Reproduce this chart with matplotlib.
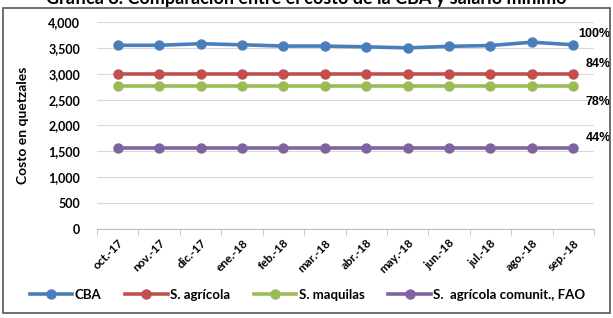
import matplotlib
matplotlib.use("Agg")
import matplotlib.pyplot as plt
import numpy as np
from matplotlib.patches import Rectangle

months = ["oct.-17", "nov.-17", "dic.-17", "ene.-18", "feb.-18", "mar.-18",
          "abr.-18", "may.-18", "jun.-18", "jul.-18", "ago.-18", "sep.-18"]
cba = [3550, 3550, 3580, 3560, 3535, 3535, 3520, 3500, 3530, 3545, 3610, 3560]
s_agricola = [2992.37] * 12
s_maquilas = [2758.16] * 12
s_fao = [1565] * 12
series_names = ["CBA", "S. agrícola", "S. maquilas", "S.  agrícola comunit., FAO"]
pct_labels = ["100%", "84%", "78%", "44%"]
yticks = [0, 500, 1000, 1500, 2000, 2500, 3000, 3500, 4000]

colors = ["#4A7EBB", "#C0504D", "#9BBB59", "#8064A2"]
FONT = "Lato"

fig = plt.figure(figsize=(6.13, 3.18), dpi=100)
fig.patch.set_facecolor("white")
fig.add_artist(Rectangle((3/613, 5/318), 607/613, 305/318, transform=fig.transFigure,
                         fill=False, edgecolor="#555555", linewidth=1.2))
fig.text(0.5, 1 - 4/318, "Gráfica 8. Comparación entre el costo de la CBA y salario mínimo",
         ha="center", va="baseline", fontsize=13, fontweight="bold", family=FONT)

ax = fig.add_axes([97/613, (318-229)/318, (594-97)/613, (229-22)/318])
x = np.arange(len(months))
data = [cba, s_agricola, s_maquilas, s_fao]
for d, c, n in zip(data, colors, series_names):
    ax.plot(x, d, color=c, linewidth=2.6, marker="o", markersize=6.5, label=n, zorder=3)

offsets = [(0, 8), (0, 7), (0, -11), (0, 7)]
for d, lab, off in zip(data, pct_labels, offsets):
    ax.annotate(lab, (x[-1], d[-1]), xytext=(off[0] + 27, off[1]), textcoords="offset points",
                ha="right", va="center", fontsize=9, fontweight="bold",
                family="Liberation Sans", annotation_clip=False)

ax.set_xlim(-0.5, 11.5)
ax.set_ylim(0, 4000)
ax.set_yticks(yticks)
ax.set_yticklabels([f"{v:,}" for v in yticks], family=FONT, fontweight="bold", fontsize=9)
ax.set_xticks(x)
ax.set_xticklabels(months, rotation=45, ha="right", rotation_mode="anchor",
                   family=FONT, fontweight="bold", fontsize=8.5)
ax.set_xticks(np.arange(-0.5, 12, 1), minor=True)
ax.tick_params(axis="x", which="major", length=0, pad=6)
ax.tick_params(axis="x", which="minor", length=4, color="#BFBFBF")
ax.tick_params(axis="y", length=0, pad=12)
ax.grid(axis="y", color="#D9D9D9", linewidth=0.8, zorder=0)
for s in ["top", "right", "left"]:
    ax.spines[s].set_visible(False)
ax.spines["bottom"].set_color("#BFBFBF")
ax.set_ylabel("Costo en quetzales", family=FONT, fontweight="bold", fontsize=10, labelpad=14)

leg = fig.legend(loc="center", bbox_to_anchor=(0.502, 1 - 295/318), ncol=4, frameon=False,
                 prop={"family": FONT, "weight": "bold", "size": 9.5}, handlelength=3.2,
                 columnspacing=1.8, handletextpad=0.2)

fig.savefig("out.png", dpi=100)
